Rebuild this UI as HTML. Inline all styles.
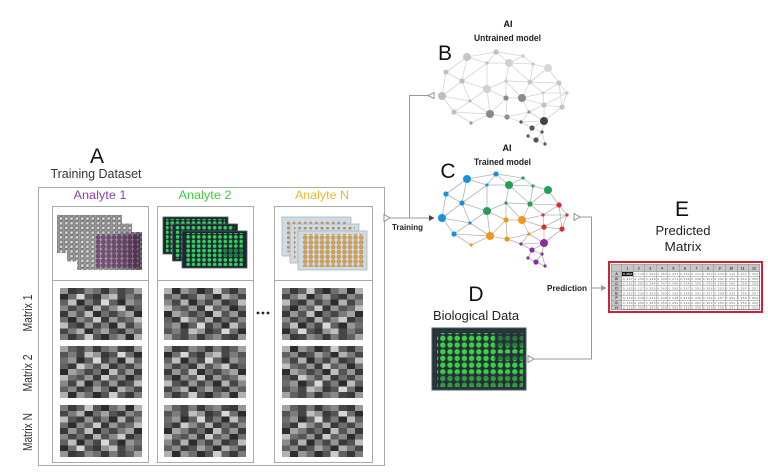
<!DOCTYPE html>
<html><head><meta charset="utf-8"><style>
html,body{margin:0;padding:0;background:#fff;}
svg{display:block;font-family:"Liberation Sans",sans-serif;}
</style></head><body>
<svg width="768" height="474" viewBox="0 0 768 474" xmlns="http://www.w3.org/2000/svg" xmlns:xlink="http://www.w3.org/1999/xlink">
<defs>
<pattern id="wg" width="5.3" height="4.7" patternUnits="userSpaceOnUse"><circle cx="2.65" cy="2.35" r="1.8" fill="#d6d6d6" stroke="#555" stroke-width="0.6"/></pattern>
<pattern id="wp" width="5.3" height="4.7" patternUnits="userSpaceOnUse"><circle cx="2.65" cy="2.35" r="1.9" fill="#7d3a7d" stroke="#3a1a3a" stroke-width="0.5"/></pattern>
<pattern id="wgr" width="5.3" height="4.6" patternUnits="userSpaceOnUse"><circle cx="2.65" cy="2.3" r="1.8" fill="#2fd25a"/></pattern>
<pattern id="wgr2" width="5.3" height="4.6" patternUnits="userSpaceOnUse"><circle cx="2.65" cy="2.3" r="1.6" fill="#1f7a44"/></pattern>
<pattern id="wor" width="5.6" height="4.8" patternUnits="userSpaceOnUse"><circle cx="2.8" cy="2.4" r="1.9" fill="#d9a04a" stroke="#a87430" stroke-width="0.4"/></pattern>
<pattern id="wor2" width="5.6" height="4.8" patternUnits="userSpaceOnUse"><circle cx="2.8" cy="2.4" r="1.5" fill="#b58a5a"/></pattern>
<pattern id="wd" width="7.2" height="6.7" patternUnits="userSpaceOnUse"><circle cx="3.6" cy="3.35" r="2.7" fill="#3ccf45"/></pattern>
<pattern id="wd2" width="7.2" height="6.7" patternUnits="userSpaceOnUse"><circle cx="3.6" cy="3.35" r="2.6" fill="#2a7a3e"/></pattern>
<linearGradient id="pg" x1="0" x2="1" y1="0" y2="0"><stop offset="0" stop-color="#fff" stop-opacity="0"/><stop offset="1" stop-color="#200020" stop-opacity="0.45"/></linearGradient>

<symbol id="hm" viewBox="0 0 10 9" preserveAspectRatio="none">
<g shape-rendering="crispEdges">
<rect x="0" y="0" width="1" height="1" fill="#999"/><rect x="1" y="0" width="1" height="1" fill="#222"/><rect x="2" y="0" width="1" height="1" fill="#333"/><rect x="3" y="0" width="1" height="1" fill="#888"/><rect x="4" y="0" width="1" height="1" fill="#666"/><rect x="5" y="0" width="1" height="1" fill="#222"/><rect x="6" y="0" width="1" height="1" fill="#777"/><rect x="7" y="0" width="1" height="1" fill="#333"/><rect x="8" y="0" width="1" height="1" fill="#555"/><rect x="9" y="0" width="1" height="1" fill="#aaa"/>
<rect x="0" y="1" width="1" height="1" fill="#111"/><rect x="1" y="1" width="1" height="1" fill="#666"/><rect x="2" y="1" width="1" height="1" fill="#eee"/><rect x="3" y="1" width="1" height="1" fill="#444"/><rect x="4" y="1" width="1" height="1" fill="#222"/><rect x="5" y="1" width="1" height="1" fill="#999"/><rect x="6" y="1" width="1" height="1" fill="#ccc"/><rect x="7" y="1" width="1" height="1" fill="#333"/><rect x="8" y="1" width="1" height="1" fill="#777"/><rect x="9" y="1" width="1" height="1" fill="#444"/>
<rect x="0" y="2" width="1" height="1" fill="#555"/><rect x="1" y="2" width="1" height="1" fill="#ccc"/><rect x="2" y="2" width="1" height="1" fill="#111"/><rect x="3" y="2" width="1" height="1" fill="#777"/><rect x="4" y="2" width="1" height="1" fill="#333"/><rect x="5" y="2" width="1" height="1" fill="#eee"/><rect x="6" y="2" width="1" height="1" fill="#555"/><rect x="7" y="2" width="1" height="1" fill="#111"/><rect x="8" y="2" width="1" height="1" fill="#999"/><rect x="9" y="2" width="1" height="1" fill="#666"/>
<rect x="0" y="3" width="1" height="1" fill="#888"/><rect x="1" y="3" width="1" height="1" fill="#333"/><rect x="2" y="3" width="1" height="1" fill="#666"/><rect x="3" y="3" width="1" height="1" fill="#222"/><rect x="4" y="3" width="1" height="1" fill="#bbb"/><rect x="5" y="3" width="1" height="1" fill="#444"/><rect x="6" y="3" width="1" height="1" fill="#888"/><rect x="7" y="3" width="1" height="1" fill="#ddd"/><rect x="8" y="3" width="1" height="1" fill="#222"/><rect x="9" y="3" width="1" height="1" fill="#555"/>
<rect x="0" y="4" width="1" height="1" fill="#222"/><rect x="1" y="4" width="1" height="1" fill="#999"/><rect x="2" y="4" width="1" height="1" fill="#444"/><rect x="3" y="4" width="1" height="1" fill="#ccc"/><rect x="4" y="4" width="1" height="1" fill="#111"/><rect x="5" y="4" width="1" height="1" fill="#666"/><rect x="6" y="4" width="1" height="1" fill="#333"/><rect x="7" y="4" width="1" height="1" fill="#777"/><rect x="8" y="4" width="1" height="1" fill="#aaa"/><rect x="9" y="4" width="1" height="1" fill="#111"/>
<rect x="0" y="5" width="1" height="1" fill="#666"/><rect x="1" y="5" width="1" height="1" fill="#111"/><rect x="2" y="5" width="1" height="1" fill="#888"/><rect x="3" y="5" width="1" height="1" fill="#555"/><rect x="4" y="5" width="1" height="1" fill="#ddd"/><rect x="5" y="5" width="1" height="1" fill="#222"/><rect x="6" y="5" width="1" height="1" fill="#999"/><rect x="7" y="5" width="1" height="1" fill="#444"/><rect x="8" y="5" width="1" height="1" fill="#666"/><rect x="9" y="5" width="1" height="1" fill="#ccc"/>
<rect x="0" y="6" width="1" height="1" fill="#ccc"/><rect x="1" y="6" width="1" height="1" fill="#444"/><rect x="2" y="6" width="1" height="1" fill="#222"/><rect x="3" y="6" width="1" height="1" fill="#999"/><rect x="4" y="6" width="1" height="1" fill="#333"/><rect x="5" y="6" width="1" height="1" fill="#777"/><rect x="6" y="6" width="1" height="1" fill="#111"/><rect x="7" y="6" width="1" height="1" fill="#bbb"/><rect x="8" y="6" width="1" height="1" fill="#333"/><rect x="9" y="6" width="1" height="1" fill="#888"/>
<rect x="0" y="7" width="1" height="1" fill="#333"/><rect x="1" y="7" width="1" height="1" fill="#777"/><rect x="2" y="7" width="1" height="1" fill="#bbb"/><rect x="3" y="7" width="1" height="1" fill="#111"/><rect x="4" y="7" width="1" height="1" fill="#666"/><rect x="5" y="7" width="1" height="1" fill="#aaa"/><rect x="6" y="7" width="1" height="1" fill="#444"/><rect x="7" y="7" width="1" height="1" fill="#222"/><rect x="8" y="7" width="1" height="1" fill="#888"/><rect x="9" y="7" width="1" height="1" fill="#555"/>
<rect x="0" y="8" width="1" height="1" fill="#777"/><rect x="1" y="8" width="1" height="1" fill="#222"/><rect x="2" y="8" width="1" height="1" fill="#555"/><rect x="3" y="8" width="1" height="1" fill="#ddd"/><rect x="4" y="8" width="1" height="1" fill="#444"/><rect x="5" y="8" width="1" height="1" fill="#111"/><rect x="6" y="8" width="1" height="1" fill="#666"/><rect x="7" y="8" width="1" height="1" fill="#999"/><rect x="8" y="8" width="1" height="1" fill="#111"/><rect x="9" y="8" width="1" height="1" fill="#bbb"/>
<rect x="0" y="0" width="10" height="9" fill="#8c8c8c" opacity="0.22"/>
</g>
</symbol>

<path id="edges" fill="none" d="M467 57L496 52M496 52L523 56M523 56L533 64M533 64L548 68M467 57L446 72M467 57L487 63M496 52L487 63M496 52L509 63M487 63L509 63M523 56L509 63M509 63L533 64M548 68L559 83M548 68L530 82M533 64L530 82M509 63L506 81M487 63L487 89M467 57L462 81M446 72L462 81M446 72L442 96M462 81L442 96M462 81L487 89M487 63L462 81M487 89L506 81M506 81L530 82M509 63L530 82M530 82L559 83M559 83L567 93M530 82L543 93M543 93L567 93M506 81L522 98M506 81L506 98M487 89L506 98M487 89L470 101M462 81L470 101M442 96L470 101M442 96L454 112M470 101L454 112M470 101L490 114M487 89L490 114M506 98L490 114M506 98L522 98M522 98L543 93M530 82L522 98M543 93L544 105M567 93L544 105M567 93L562 107M544 105L562 107M522 98L529 112M506 98L507 117M490 114L507 117M507 117L529 112M529 112L544 105M522 98L544 105M454 112L490 114M454 112L471 123M490 114L471 123M507 117L521 122M529 112L544 121M544 105L544 121M562 107L544 121M544 121L521 122M521 122L532 128M544 121L532 128M544 121L542 132M532 128L542 132M532 128L528 136M542 132L536 140M528 136L536 140M536 140L545 144M542 132L545 144M559 83L562 107M529 112L521 122M559 83L543 93"/>
</defs>

<!-- ===== A: Training dataset ===== -->
<text x="97" y="163" font-size="21" text-anchor="middle" fill="#111">A</text>
<text x="96" y="178" font-size="12.5" text-anchor="middle" fill="#333" textLength="91" lengthAdjust="spacingAndGlyphs">Training Dataset</text>

<rect x="38.5" y="187.5" width="346" height="278" fill="none" stroke="#aaa" stroke-width="1"/>

<text x="100" y="199" font-size="12" text-anchor="middle" fill="#8e44ad" textLength="53" lengthAdjust="spacingAndGlyphs">Analyte 1</text>
<text x="205" y="199" font-size="12" text-anchor="middle" fill="#3ccc3c" textLength="53" lengthAdjust="spacingAndGlyphs">Analyte 2</text>
<text x="322" y="199" font-size="12" text-anchor="middle" fill="#f2b632" textLength="54" lengthAdjust="spacingAndGlyphs">Analyte N</text>

<g fill="none" stroke="#aaa" stroke-width="1">
<rect x="52.5" y="206.5" width="96" height="256"/>
<rect x="157.5" y="206.5" width="96" height="256"/>
<rect x="274.5" y="206.5" width="98" height="256"/>
<line x1="52.5" y1="280.5" x2="148.5" y2="280.5"/>
<line x1="157.5" y1="280.5" x2="253.5" y2="280.5"/>
<line x1="274.5" y1="280.5" x2="372.5" y2="280.5"/>
</g>

<!-- Analyte 1 plates -->
<g>
<rect x="57" y="215" width="65" height="38" fill="#9a9a9a"/><rect x="57" y="215" width="65" height="38" fill="url(#wg)"/>
<rect x="67" y="223.5" width="65" height="38" fill="#9a9a9a"/><rect x="67" y="223.5" width="65" height="38" fill="url(#wg)"/>
<rect x="77" y="232" width="65" height="38" fill="#9a9a9a"/><rect x="77" y="232" width="65" height="38" fill="url(#wg)"/>
<rect x="95" y="234" width="45" height="34" fill="url(#wp)"/>
<rect x="77" y="232" width="65" height="38" fill="url(#pg)"/>
</g>
<!-- Analyte 2 plates -->
<g>
<rect x="163" y="217" width="65" height="37" fill="#1d2830" stroke="#4b5a66" stroke-width="0.8"/><rect x="166" y="219" width="59" height="33" fill="url(#wgr)"/>
<rect x="172.5" y="224" width="65" height="37" fill="#1d2830" stroke="#4b5a66" stroke-width="0.8"/><rect x="175.5" y="226" width="59" height="33" fill="url(#wgr)"/>
<rect x="182" y="231" width="65" height="37" fill="#1d2830" stroke="#4b5a66" stroke-width="0.8"/><rect x="185" y="233" width="59" height="33" fill="url(#wgr)"/>
<rect x="222" y="247" width="22" height="10" fill="url(#wgr2)"/>
</g>
<!-- Analyte N plates -->
<g>
<rect x="282" y="217" width="69" height="39" fill="#cfdbe3" stroke="#aab6be" stroke-width="0.8"/><rect x="286" y="220" width="61" height="32" fill="url(#wor2)"/>
<rect x="290" y="224" width="69" height="39" fill="#cfdbe3" stroke="#aab6be" stroke-width="0.8"/><rect x="294" y="227" width="61" height="32" fill="url(#wor2)"/>
<rect x="298" y="231" width="69" height="39" fill="#cfdbe3" stroke="#aab6be" stroke-width="0.8"/><rect x="302" y="234" width="62" height="33" fill="url(#wor)"/>
</g>

<!-- Matrix labels -->
<g font-size="12.5" fill="#333" text-anchor="middle">
<text transform="translate(32,313) rotate(-90)" textLength="37" lengthAdjust="spacingAndGlyphs">Matrix 1</text>
<text transform="translate(32,373) rotate(-90)" textLength="37" lengthAdjust="spacingAndGlyphs">Matrix 2</text>
<text transform="translate(32,432) rotate(-90)" textLength="38" lengthAdjust="spacingAndGlyphs">Matrix N</text>
</g>

<!-- Heatmaps -->
<use xlink:href="#hm" href="#hm" x="60" y="288" width="82" height="52"/>
<use xlink:href="#hm" href="#hm" width="82" height="52" transform="translate(142,346) scale(-1,1)"/>
<use xlink:href="#hm" href="#hm" width="82" height="52" transform="translate(60,457) scale(1,-1)"/>
<use xlink:href="#hm" href="#hm" width="82" height="52" transform="translate(246,340) scale(-1,-1)"/>
<use xlink:href="#hm" href="#hm" x="164" y="346" width="82" height="52"/>
<use xlink:href="#hm" href="#hm" width="82" height="52" transform="translate(246,405) scale(-1,1)"/>
<use xlink:href="#hm" href="#hm" width="81" height="52" transform="translate(282,340) scale(1,-1)"/>
<use xlink:href="#hm" href="#hm" width="81" height="52" transform="translate(363,398) scale(-1,-1)"/>
<use xlink:href="#hm" href="#hm" width="81" height="52" transform="translate(363,405) scale(-1,1)"/>

<g fill="#222"><circle cx="258" cy="313" r="1.4"/><circle cx="263" cy="313" r="1.4"/><circle cx="268" cy="313" r="1.4"/></g>

<!-- ===== Connectors ===== -->
<g fill="none" stroke="#999" stroke-width="1">
<path d="M390 218H429"/>
<path d="M409.5 218V95.5H428"/>
<path d="M580 217H591.5V359H534"/>
<path d="M591.5 288H602"/>
</g>
<path d="M384 214.5L390 218L384 221.5Z" fill="#fff" stroke="#888" stroke-width="0.9"/>
<path d="M429 215L434.5 218L429 221Z" fill="#444"/>
<path d="M428 95.5L434 92.5L434 98.5Z" fill="#fff" stroke="#888" stroke-width="0.9"/>
<path d="M574 213.5L580 217L574 220.5Z" fill="#fff" stroke="#888" stroke-width="0.9"/>
<path d="M528 355.5L534 359L528 362.5Z" fill="#fff" stroke="#888" stroke-width="0.9"/>
<path d="M601 285L606.5 288L601 291Z" fill="#999"/>

<text x="392" y="230" font-size="8.5" font-weight="bold" fill="#222" textLength="31" lengthAdjust="spacingAndGlyphs">Training</text>
<text x="547" y="291" font-size="8.5" font-weight="bold" fill="#222" textLength="40" lengthAdjust="spacingAndGlyphs">Prediction</text>

<!-- ===== B: untrained brain ===== -->
<text x="508" y="27" font-size="9" font-weight="bold" text-anchor="middle" fill="#111">AI</text>
<text x="507.5" y="41" font-size="9.5" font-weight="bold" text-anchor="middle" fill="#222" textLength="67" lengthAdjust="spacingAndGlyphs">Untrained model</text>
<text x="445" y="60" font-size="21" text-anchor="middle" fill="#111">B</text>
<use xlink:href="#edges" href="#edges" stroke="#d4d4d4" stroke-width="0.8"/>
<g>
<circle cx="467" cy="57" r="4" fill="#c6c6c6"/><circle cx="496" cy="52" r="2.6" fill="#c0c0c0"/><circle cx="523" cy="56" r="1.6" fill="#c8c8c8"/><circle cx="487" cy="63" r="1.6" fill="#c0c0c0"/><circle cx="509" cy="63" r="4" fill="#d0d0d0"/><circle cx="533" cy="64" r="1.6" fill="#c8c8c8"/><circle cx="548" cy="68" r="4" fill="#d6d6d6"/>
<circle cx="446" cy="72" r="2.6" fill="#c0c0c0"/><circle cx="462" cy="81" r="2.6" fill="#bdbdbd"/><circle cx="487" cy="89" r="4" fill="#d0d0d0"/><circle cx="506" cy="81" r="1.6" fill="#c8c8c8"/><circle cx="530" cy="82" r="2.6" fill="#c8c8c8"/><circle cx="559" cy="83" r="2.6" fill="#c8c8c8"/>
<circle cx="442" cy="96" r="4" fill="#bdbdbd"/><circle cx="470" cy="101" r="1.6" fill="#c0c0c0"/><circle cx="506" cy="98" r="2.6" fill="#8a8a8a"/><circle cx="522" cy="98" r="4" fill="#8a8a8a"/><circle cx="543" cy="93" r="1.6" fill="#c8c8c8"/><circle cx="567" cy="93" r="1.6" fill="#c8c8c8"/>
<circle cx="544" cy="105" r="2.6" fill="#c0c0c0"/><circle cx="562" cy="107" r="2.6" fill="#c4c4c4"/><circle cx="454" cy="112" r="2.6" fill="#c0c0c0"/><circle cx="490" cy="114" r="4" fill="#8a8a8a"/><circle cx="507" cy="117" r="2.6" fill="#8e8e8e"/><circle cx="529" cy="112" r="1.6" fill="#999"/>
<circle cx="471" cy="123" r="1.6" fill="#999"/><circle cx="544" cy="121" r="4" fill="#444"/><circle cx="521" cy="122" r="1.6" fill="#555"/><circle cx="532" cy="128" r="2.6" fill="#555"/><circle cx="542" cy="132" r="1.6" fill="#555"/><circle cx="528" cy="136" r="1.6" fill="#555"/><circle cx="536" cy="140" r="2.6" fill="#555"/><circle cx="545" cy="144" r="1.6" fill="#555"/>
</g>

<!-- ===== C: trained brain ===== -->
<text x="507" y="151" font-size="9" font-weight="bold" text-anchor="middle" fill="#111">AI</text>
<text x="502.5" y="165" font-size="9.5" font-weight="bold" text-anchor="middle" fill="#222" textLength="57" lengthAdjust="spacingAndGlyphs">Trained model</text>
<text x="448" y="178" font-size="21" text-anchor="middle" fill="#111">C</text>
<g transform="translate(0,122)">
<use xlink:href="#edges" href="#edges" stroke="#b4b4b4" stroke-width="0.8"/>
<g fill="#1a90e0">
<circle cx="467" cy="57" r="4"/><circle cx="496" cy="52" r="2.6"/><circle cx="487" cy="63" r="1.6"/><circle cx="446" cy="72" r="2.6"/><circle cx="462" cy="81" r="2.6"/><circle cx="442" cy="96" r="4"/><circle cx="470" cy="101" r="1.6"/><circle cx="454" cy="112" r="2.6"/>
</g>
<g fill="#23a055">
<circle cx="523" cy="56" r="1.6"/><circle cx="509" cy="63" r="4"/><circle cx="533" cy="64" r="1.6"/><circle cx="548" cy="68" r="4"/><circle cx="487" cy="89" r="4"/><circle cx="506" cy="81" r="1.6"/><circle cx="530" cy="82" r="2.6"/>
</g>
<g fill="#e02a2a">
<circle cx="559" cy="83" r="2.6"/><circle cx="543" cy="93" r="1.6"/><circle cx="567" cy="93" r="1.6"/><circle cx="544" cy="105" r="2.6"/><circle cx="562" cy="107" r="2.6"/>
</g>
<g fill="#f29812">
<circle cx="506" cy="98" r="2.6"/><circle cx="522" cy="98" r="4"/><circle cx="490" cy="114" r="4"/><circle cx="507" cy="117" r="2.6"/><circle cx="529" cy="112" r="1.6"/><circle cx="471" cy="123" r="1.6"/>
</g>
<g fill="#8a2fa0">
<circle cx="544" cy="121" r="4"/><circle cx="521" cy="122" r="1.6"/><circle cx="532" cy="128" r="2.6"/><circle cx="542" cy="132" r="1.6"/><circle cx="528" cy="136" r="1.6"/><circle cx="536" cy="140" r="2.6"/><circle cx="545" cy="144" r="1.6"/>
</g>
</g>

<!-- ===== D: biological data ===== -->
<text x="476" y="301" font-size="21" text-anchor="middle" fill="#111">D</text>
<text x="476" y="320" font-size="13" text-anchor="middle" fill="#222" textLength="86" lengthAdjust="spacingAndGlyphs">Biological Data</text>
<rect x="432" y="328" width="94" height="62" fill="#243137" stroke="#4d5b63" stroke-width="1"/>
<rect x="435" y="331" width="88" height="56" fill="none" stroke="#3a474e" stroke-width="0.6"/>
<rect x="437" y="333" width="86" height="54" fill="url(#wd)"/>
<rect x="494.6" y="333" width="28.8" height="13.4" fill="#243137"/>
<rect x="494.6" y="333" width="28.8" height="13.4" fill="url(#wd2)"/>
<rect x="494.6" y="353" width="28.8" height="6.7" fill="#243137"/>
<rect x="494.6" y="353" width="28.8" height="6.7" fill="url(#wd2)"/>
<rect x="437" y="373.4" width="86" height="13.4" fill="#243137" opacity="0.35"/>

<!-- ===== E: predicted matrix ===== -->
<text x="682" y="216" font-size="21" text-anchor="middle" fill="#111">E</text>
<text x="683" y="235" font-size="13" text-anchor="middle" fill="#222" textLength="55" lengthAdjust="spacingAndGlyphs">Predicted</text>
<text x="683" y="251" font-size="13" text-anchor="middle" fill="#222" textLength="37" lengthAdjust="spacingAndGlyphs">Matrix</text>

<rect x="609" y="262" width="153" height="50" fill="#fff" stroke="#d42030" stroke-width="2"/>
<g shape-rendering="crispEdges">
<rect x="611.5" y="264.5" width="148" height="45" fill="#fff" stroke="#888" stroke-width="0.6"/>
<rect x="611.5" y="264.5" width="148" height="7" fill="#c6c6c6"/>
<rect x="611.5" y="264.5" width="10" height="45" fill="#c6c6c6"/>
<rect x="621.5" y="271.5" width="11.5" height="4.8" fill="#111"/>
<g stroke="#8a8a8a" stroke-width="0.5">
<path d="M621.5 264.5V309.5M633 264.5V309.5M644.6 264.5V309.5M656.1 264.5V309.5M667.7 264.5V309.5M679.2 264.5V309.5M690.8 264.5V309.5M702.3 264.5V309.5M713.9 264.5V309.5M725.4 264.5V309.5M737 264.5V309.5M748.5 264.5V309.5"/>
<path d="M611.5 271.5H759.5M611.5 276.3H759.5M611.5 281.1H759.5M611.5 285.9H759.5M611.5 290.7H759.5M611.5 295.5H759.5M611.5 300.3H759.5M611.5 305.1H759.5"/>
</g>
</g>
<g font-size="3.6" font-weight="bold" fill="#333" text-anchor="middle">
<text x="627.2" y="269.6">1</text><text x="638.8" y="269.6">2</text><text x="650.3" y="269.6">3</text><text x="661.9" y="269.6">4</text><text x="673.4" y="269.6">5</text><text x="685" y="269.6">6</text><text x="696.5" y="269.6">7</text><text x="708.1" y="269.6">8</text><text x="719.6" y="269.6">9</text><text x="731.2" y="269.6">10</text><text x="742.7" y="269.6">11</text><text x="754" y="269.6">12</text>
<text x="616.5" y="275.2">A</text><text x="616.5" y="280">B</text><text x="616.5" y="284.8">C</text><text x="616.5" y="289.6">D</text><text x="616.5" y="294.4">E</text><text x="616.5" y="299.2">F</text><text x="616.5" y="304">G</text><text x="616.5" y="308.8">H</text>
</g>
<g font-size="3" fill="#555">
<text x="623" y="275.1" textLength="135" lengthAdjust="spacing" fill="#666">0.352 0.140 0.350 0.356 0.357 0.352 0.341 1.350 0.033 0.142 0.343 0.355</text>
<text x="623" y="279.9" textLength="135" lengthAdjust="spacing">0.347 0.350 0.349 0.340 0.474 0.356 0.346 0.343 0.362 0.352 0.342 0.350</text>
<text x="623" y="284.7" textLength="135" lengthAdjust="spacing">0.352 0.353 0.344 0.347 0.368 0.356 0.355 0.350 0.358 0.360 0.358 0.359</text>
<text x="623" y="289.5" textLength="135" lengthAdjust="spacing">0.352 0.127 0.355 0.342 0.355 0.357 0.351 0.358 0.352 0.354 0.357 0.357</text>
<text x="623" y="294.3" textLength="135" lengthAdjust="spacing">0.352 0.356 0.350 0.350 0.350 0.356 0.352 0.357 0.358 0.362 0.356 0.357</text>
<text x="623" y="299.1" textLength="135" lengthAdjust="spacing">0.340 0.339 0.333 0.338 0.348 0.340 0.340 0.342 0.357 0.352 0.356 0.356</text>
<text x="623" y="303.9" textLength="135" lengthAdjust="spacing">0.350 0.356 0.355 0.350 0.352 0.350 0.361 0.352 0.350 0.351 0.353 0.352</text>
<text x="623" y="308.7" textLength="135" lengthAdjust="spacing">0.352 0.350 0.356 0.356 0.356 0.352 0.356 0.353 0.356 0.357 0.357 0.350</text>
</g>
<text x="623" y="275.1" font-size="3" fill="#fff" textLength="9" lengthAdjust="spacingAndGlyphs">0.352</text>
</svg>
</body></html>
